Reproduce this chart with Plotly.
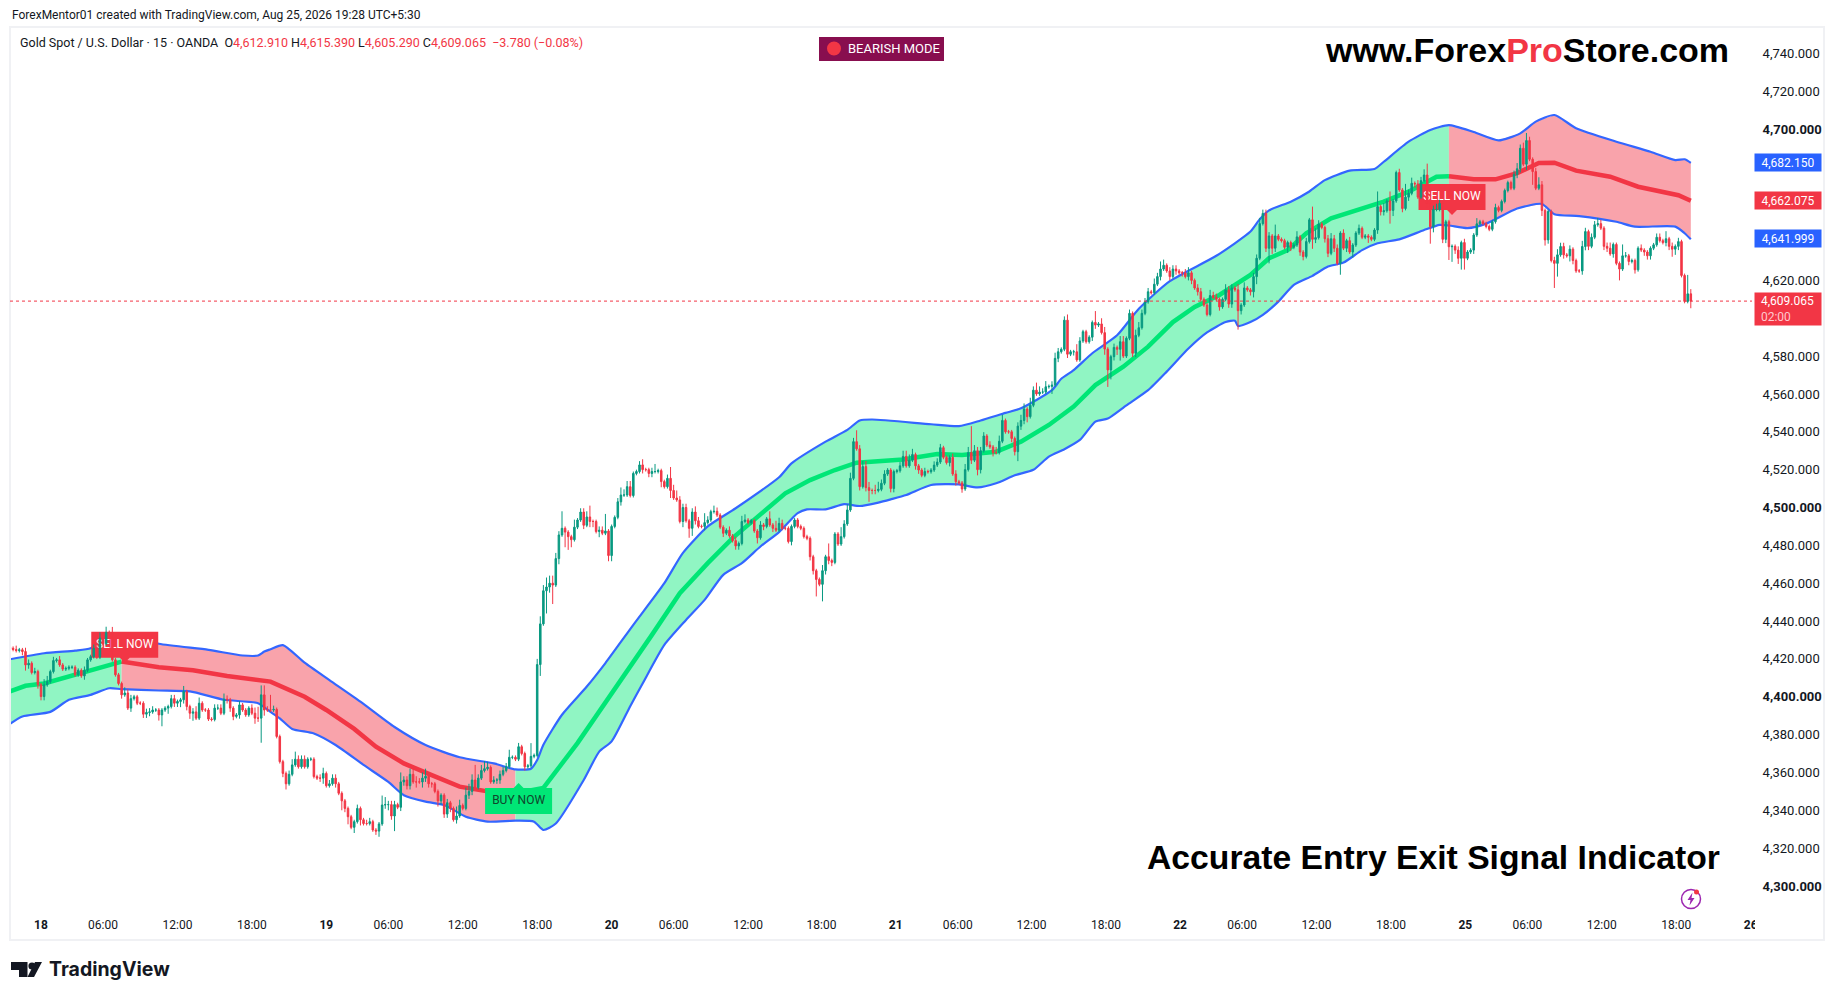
import plotly.graph_objects as go

# 15 minute candles. open = previous close
closes = [
    4425.6, 4425, 4424.4, 4424.8, 4423.9, 4416.8, 4417.7, 4412.8, 4413.3, 4406.3,
    4400.1, 4406.3, 4408, 4413.3, 4419.1, 4419.5, 4416.8, 4414.6, 4415, 4415.6,
    4415.6, 4411.6, 4414, 4411, 4414, 4419.5, 4421.2, 4425.6, 4420.9, 4431,
    4428, 4434, 4433.9, 4419.5, 4411.6, 4407, 4401, 4402, 4394, 4399,
    4400, 4396.6, 4396.6, 4390.8, 4391.7, 4392, 4393, 4393, 4390.4, 4393,
    4394, 4394.8, 4399, 4396.6, 4397.5, 4398.4, 4402.7, 4394.8, 4391.3, 4392,
    4388.7, 4396.6, 4393, 4393, 4388.2, 4388, 4394, 4394, 4391.3, 4398.7,
    4398.4, 4394, 4389.6, 4390.4, 4395.7, 4393, 4390.4, 4394, 4391.3, 4388.7,
    4388.7, 4401, 4393, 4393, 4393, 4393.3, 4379, 4365.7, 4359.5, 4354,
    4359, 4364, 4367, 4363, 4367, 4363, 4367, 4367, 4357.8, 4357,
    4357, 4359.5, 4353, 4354, 4357, 4354, 4349, 4345, 4341, 4336.6,
    4331, 4334, 4341, 4335, 4333, 4333, 4334, 4329.6, 4329, 4332.8,
    4342.8, 4343, 4343, 4337, 4343, 4341.6, 4355, 4356, 4353, 4359,
    4355, 4355, 4355, 4357, 4358, 4354, 4354, 4350, 4345, 4348,
    4338, 4344, 4341, 4335, 4337, 4342.6, 4341, 4348, 4350, 4356,
    4352, 4357, 4361, 4362, 4362.7, 4355, 4356, 4356, 4359, 4361,
    4363, 4368, 4368, 4367, 4373.6, 4370, 4363, 4363.5, 4368.5, 4369,
    4417, 4438.5, 4456, 4458, 4460, 4459, 4473, 4485.5, 4489, 4487,
    4484.6, 4483, 4489.6, 4493.4, 4497.6, 4490.6, 4495, 4492.6, 4492.6, 4487.3,
    4488, 4486.4, 4487.6, 4474.6, 4490, 4494.8, 4503, 4506.6, 4506.6, 4511,
    4506.3, 4518, 4519, 4522.5, 4520, 4520, 4518, 4519, 4519, 4519.5,
    4513.7, 4511, 4515.4, 4509, 4505, 4504, 4492.6, 4500, 4493, 4489,
    4497.6, 4493, 4490, 4490, 4492, 4493.4, 4497.8, 4498, 4496, 4489.6,
    4486.4, 4488, 4485, 4482.5, 4479.7, 4481, 4492.6, 4493.4, 4492, 4493,
    4487.6, 4484, 4490.8, 4490, 4494, 4490.8, 4489, 4488, 4491.6, 4489,
    4489, 4482, 4490, 4493.4, 4490, 4489, 4484.6, 4483.7, 4474, 4466.6,
    4462, 4459.4, 4466.6, 4474, 4472, 4471, 4486, 4480.7, 4484.6, 4491.3,
    4498.7, 4515.4, 4534.8, 4531, 4511, 4521.6, 4510.5, 4509, 4509, 4509,
    4509.6, 4512.8, 4517.7, 4519.8, 4510, 4519, 4519.4, 4522, 4527, 4522,
    4525, 4528, 4522, 4519.8, 4517, 4519, 4518.9, 4519.8, 4522.4, 4524,
    4531.6, 4526.5, 4523.7, 4526.5, 4517.7, 4513.6, 4513, 4509.8, 4520, 4529,
    4525, 4530, 4520, 4530, 4537.8, 4533, 4532, 4529, 4529, 4535,
    4546, 4540, 4540, 4536.5, 4529.5, 4543, 4546, 4552, 4548, 4554,
    4562, 4560, 4561, 4561, 4563.8, 4564, 4564.7, 4578.8, 4582.3, 4583.6,
    4599, 4581, 4582.3, 4582.3, 4578, 4588, 4592.9, 4587.6, 4590, 4597.8,
    4596.4, 4597, 4592.4, 4583.7, 4572.7, 4579.7, 4584.6, 4583.6, 4587.6, 4580,
    4589.4, 4602.6, 4581.5, 4591, 4595, 4602.6, 4608.7, 4614, 4613.5, 4618,
    4622, 4626, 4628, 4625, 4622, 4626, 4625, 4624, 4624, 4622,
    4624, 4620, 4616, 4614, 4610, 4607, 4602, 4612, 4611, 4610,
    4606, 4610, 4615, 4607.5, 4616, 4615, 4604, 4607, 4616, 4615,
    4614, 4622, 4631.7, 4650, 4655.4, 4637, 4643.5, 4637, 4643.5, 4641.7,
    4641, 4637.5, 4640, 4637.5, 4638.7, 4643, 4635, 4632.6, 4640.5, 4652,
    4641.7, 4642.6, 4649.8, 4648, 4642, 4634.3, 4642, 4637, 4629, 4645,
    4637, 4641, 4635, 4638.7, 4645, 4647.5, 4642.8, 4643.5, 4642.8, 4641.7,
    4646.6, 4659, 4656.3, 4656.8, 4662, 4657, 4662, 4677, 4667.8, 4658,
    4664, 4666, 4671.3, 4671, 4664, 4672.7, 4675.7, 4660.7, 4648.4, 4657.5,
    4657.5, 4660.7, 4641.7, 4651, 4637.8, 4638, 4636, 4631.7, 4640, 4631.7,
    4635, 4636, 4644, 4649.9, 4651, 4650, 4648.5, 4647, 4651, 4658.5,
    4657, 4661.7, 4667.5, 4671.7, 4668.7, 4676, 4679, 4689.8, 4681.4, 4693.9,
    4684, 4677.5, 4668.7, 4670.5, 4657, 4641.4, 4656.4, 4630.5, 4629, 4633.5,
    4637.9, 4633.5, 4633, 4636.5, 4630.5, 4625, 4625, 4637.9, 4645.8, 4638,
    4642.8, 4649.4, 4650, 4647.6, 4638, 4637, 4634, 4639, 4629, 4626,
    4633, 4633, 4630, 4630.5, 4625.6, 4637, 4636, 4635, 4633, 4637,
    4638.8, 4642.8, 4641, 4640, 4642, 4638, 4636.5, 4638, 4640.5, 4622.6,
    4608.9, 4612.91, 4609.065,
]
wick_up = [
    2, 1, 2, 1, 1, 2, 2, 1, 2, 1,
    1, 3, 3, 1, 2, 1, 2, 1, 1, 1,
    1, 1, 1, 1, 2, 1, 1, 2, 3, 3,
    2, 3, 1, 3, 1, 1, 1, 3, 2, 2,
    1, 1, 1, 1, 2, 2, 2, 1, 1, 1,
    1, 1, 2, 2, 1, 1, 3, 1, 1, 2,
    3, 3, 1, 1, 1, 1, 2, 2, 2, 3,
    2, 1, 1, 1, 2, 1, 1, 1, 2, 3,
    6, 5, 5, 2, 8, 2, 1, 1, 1, 1,
    2, 3, 4, 2, 2, 2, 1, 1, 1, 1,
    2, 3, 1, 2, 2, 2, 1, 1, 1, 1,
    1, 1, 2, 1, 1, 2, 2, 1, 1, 1,
    5, 4, 2, 2, 2, 1, 5, 2, 2, 3,
    3, 3, 2, 3, 4, 1, 1, 1, 1, 1,
    1, 2, 1, 1, 5, 3, 1, 4, 4, 3,
    8, 2, 3, 4, 3, 1, 2, 1, 2, 2,
    2, 4, 1, 1, 2, 1, 1, 1, 7, 1,
    3, 4, 3, 5, 4, 4, 3, 2, 9, 1,
    1, 1, 4, 1, 2, 2, 3, 6, 1, 1,
    2, 2, 9, 1, 1, 1, 2, 4, 3, 3,
    3, 1, 1, 2, 3, 1, 1, 2, 4, 1,
    1, 1, 2, 6, 3, 4, 2, 2, 2, 1,
    2, 3, 2, 1, 5, 2, 1, 3, 2, 1,
    1, 1, 2, 1, 2, 1, 3, 3, 1, 1,
    1, 1, 2, 1, 1, 4, 1, 4, 3, 2,
    1, 1, 1, 1, 1, 1, 1, 1, 1, 1,
    1, 1, 3, 1, 7, 1, 1, 1, 5, 2,
    3, 3, 2, 6, 2, 3, 3, 3, 1, 3,
    4, 2, 2, 1, 1, 1, 1, 2, 3, 3,
    3, 3, 1, 1, 1, 2, 1, 1, 2, 2,
    2, 1, 1, 1, 2, 2, 1, 1, 3, 3,
    14, 3, 2, 2, 2, 1, 2, 1, 3, 3,
    3, 1, 1, 1, 1, 2, 3, 3, 1, 4,
    2, 4, 3, 2, 3, 1, 2, 3, 2, 1,
    2, 3, 1, 1, 4, 2, 1, 1, 1, 1,
    6, 1, 3, 3, 1, 1, 2, 1, 3, 3,
    1, 2, 1, 3, 3, 2, 2, 2, 1, 3,
    2, 4, 3, 1, 2, 2, 2, 1, 1, 2,
    3, 1, 1, 2, 2, 1, 1, 3, 2, 2,
    1, 1, 3, 2, 2, 1, 3, 1, 3, 1,
    1, 2, 2, 3, 2, 2, 2, 1, 6, 1,
    1, 1, 1, 1, 1, 3, 1, 1, 2, 1,
    7, 5, 2, 1, 1, 2, 3, 2, 2, 1,
    2, 1, 2, 1, 1, 2, 1, 1, 1, 1,
    1, 8, 1, 4, 1, 5, 1, 1, 2, 1,
    7, 2, 3, 1, 2, 2, 3, 6, 2, 2,
    3, 2, 1, 1, 1, 1, 1, 2, 1, 2,
    1, 1, 1, 3, 1, 1, 1, 1, 1, 2,
    1, 1, 1, 1, 1, 2, 3, 2, 3, 4,
    2, 1, 2, 4, 2, 1, 1, 1, 2, 3,
    2, 2, 1, 2, 1, 1, 1, 3, 2, 1,
    2, 2, 3, 2, 1, 2, 3, 1, 1, 1,
    6, 2, 1, 1, 1, 1, 2, 1, 1, 1,
    1, 2, 2, 1, 4, 1, 2, 1, 2, 1,
    1, 10, 2.48,
]
wick_dn = [
    2, 1, 1, 1, 2, 3, 2, 1, 1, 2,
    2, 2, 1, 1, 1, 1, 1, 1, 1, 1,
    1, 1, 1, 1, 2, 1, 1, 1, 1, 1,
    1, 1, 2, 1, 1, 1, 2, 1, 1, 2,
    1, 1, 1, 2, 2, 2, 1, 1, 3, 6,
    1, 3, 1, 2, 2, 3, 2, 2, 3, 4,
    1, 1, 1, 1, 1, 1, 1, 1, 1, 1,
    2, 2, 2, 1, 2, 1, 1, 1, 1, 3,
    2, 13, 3, 1, 1, 1, 1, 1, 2, 3,
    1, 1, 1, 1, 1, 1, 1, 1, 1, 1,
    2, 3, 1, 1, 1, 2, 1, 5, 2, 4,
    1, 3, 1, 3, 1, 1, 1, 1, 2, 3,
    1, 2, 3, 2, 8, 1, 2, 2, 2, 2,
    1, 3, 1, 3, 2, 2, 2, 1, 3, 2,
    2, 2, 2, 1, 2, 1, 1, 1, 2, 2,
    1, 1, 1, 1, 1, 1, 1, 2, 2, 1,
    1, 1, 1, 1, 1, 1, 2, 1, 1, 1,
    1, 6, 1, 12, 3, 10, 1, 3, 1, 8,
    7, 4, 1, 1, 1, 2, 1, 3, 3, 1,
    3, 1, 1, 3, 3, 1, 1, 2, 1, 1,
    1, 1, 1, 1, 2, 1, 2, 2, 1, 1,
    3, 1, 1, 4, 1, 1, 1, 3, 1, 5,
    4, 2, 1, 1, 2, 1, 1, 1, 1, 1,
    2, 1, 1, 1, 2, 2, 1, 1, 1, 1,
    1, 3, 1, 2, 1, 1, 2, 1, 1, 1,
    1, 1, 2, 1, 1, 1, 1, 1, 2, 2,
    9, 1, 9, 2, 2, 2, 1, 1, 1, 1,
    1, 1, 1, 1, 2, 1, 2, 6, 2, 2,
    1, 1, 1, 1, 2, 2, 1, 1, 1, 1,
    1, 1, 2, 2, 1, 1, 1, 1, 1, 1,
    1, 1, 1, 2, 1, 2, 1, 2, 1, 1,
    2, 1, 3, 2, 1, 1, 1, 2, 1, 1,
    1, 1, 1, 2, 2, 5, 2, 2, 3, 1,
    1, 1, 1, 1, 1, 1, 4, 1, 2, 1,
    1, 2, 1, 2, 1, 1, 1, 1, 1, 2,
    2, 1, 1, 3, 9, 5, 2, 3, 6, 1,
    1, 1, 2, 2, 1, 1, 1, 1, 1, 1,
    1, 2, 1, 1, 2, 1, 2, 1, 2, 1,
    2, 2, 1, 2, 1, 1, 1, 1, 1, 1,
    2, 1, 1, 2, 2, 1, 10, 2, 1, 1,
    2, 3, 4, 1, 1, 2, 8, 3, 2, 1,
    1, 1, 3, 2, 1, 1, 2, 2, 1, 1,
    5, 2, 1, 1, 2, 2, 1, 2, 1, 6,
    1, 2, 1, 3, 1, 1, 1, 1, 3, 1,
    1, 2, 2, 2, 1, 7, 3, 1, 1, 2,
    1, 2, 1, 2, 1, 1, 1, 2, 9, 3,
    1, 1, 2, 2, 7, 8, 2, 3, 6, 6,
    1, 1, 2, 1, 1, 1, 1, 1, 1, 1,
    1, 1, 1, 1, 1, 1, 2, 2, 1, 3,
    1, 7, 1, 1, 3, 3, 2, 1, 13, 7,
    1, 2, 1, 3, 2, 1, 1, 2, 2, 2,
    1, 1, 1, 1, 2, 2, 1, 2, 1, 6,
    1, 1, 2, 1, 2, 1, 1, 2, 2, 2,
    1, 1, 1, 1, 2, 2, 4, 3, 2, 1,
    1, 1, 3.775,
]

# envelope lines, (bar, price) read at the bends of each line
upper_bars = [0, 11, 21, 26, 33, 36, 48, 64, 75, 80, 82, 84, 88, 95, 103, 113, 124, 134, 145, 156, 163,
              168, 170, 172, 178, 186, 192, 201, 211, 217, 225, 234, 248, 252, 263, 270, 274, 278, 297, 306, 313, 321,
              326, 336, 339, 343, 349, 357, 364, 374, 389, 400, 403, 406, 413, 419, 424, 432, 440, 443, 451,
              458, 464, 472, 480, 487, 492, 498, 505, 518, 529, 537, 540, 542]
upper_vals = [4419.8, 4423, 4424.4, 4425.6, 4433, 4433, 4428, 4424.8, 4421.8, 4421.8, 4423.9, 4425.1, 4427.3, 4418, 4408.8, 4397.4, 4384, 4374.5, 4368, 4364.8, 4361.6,
              4362, 4366.6, 4374.6, 4390.5, 4405.4, 4417.8, 4438, 4460, 4476, 4490, 4499.6, 4516, 4523.3, 4534.8, 4541, 4546, 4546.5, 4544, 4543, 4546, 4550,
              4552.4, 4562, 4568, 4572.6, 4581.5, 4591, 4605, 4619.6, 4633, 4645.8, 4652.3, 4657, 4661.6, 4667, 4673, 4678, 4678.9, 4682.7, 4693.3,
              4699.5, 4702, 4698.4, 4694, 4697.7, 4703.9, 4707.4, 4700.4, 4693.3, 4688, 4683.6, 4684, 4682.15]
mid_bars = [0, 5, 11, 21, 30, 36, 48, 59, 70, 84, 95, 102, 111, 118, 127, 136, 145, 154, 163,
            172, 183, 192, 200, 207, 216, 225, 233, 245, 250, 258, 266, 273, 288, 299, 307, 318,
            326, 335, 343, 350, 359, 367, 375, 382, 390, 400, 406, 412, 418, 426, 434, 443, 451, 460, 464,
            472, 479, 486, 493, 498, 505, 516, 525, 538, 542]
mid_vals = [4402.8, 4405.8, 4407, 4411.6, 4416, 4418.6, 4415.6, 4414, 4411, 4408, 4400, 4393, 4383, 4373.6, 4364.8, 4358.6, 4352.5, 4350, 4349,
            4351.8, 4375.5, 4396.6, 4416, 4432.7, 4454.7, 4470.6, 4483.8, 4500.4, 4507.5, 4514.5, 4519.8, 4523.7, 4525.4, 4528.2, 4527.7, 4529.5,
            4534.8, 4543.6, 4553.3, 4564.7, 4574.4, 4585, 4598, 4606, 4612.3, 4622.9, 4631.7, 4636, 4644.9, 4652.8, 4657, 4661.6, 4666.9, 4674.8, 4675,
            4673.5, 4673.4, 4676.7, 4682, 4682.2, 4678, 4674.8, 4669.5, 4665, 4662.075]
lower_bars = [0, 4, 13, 19, 26, 32, 36, 48, 58, 69, 80, 84, 87, 91, 98, 105, 114, 122, 127, 134, 140, 147, 154, 163,
              169, 172, 176, 185, 190, 194, 200, 204, 211, 218, 224, 230, 236, 242, 248, 254, 257, 263, 269, 274, 280, 284, 289, 297, 306, 312, 318, 324,
              330, 335, 340, 345, 350, 354, 360, 367, 373, 380, 386, 392, 395, 396, 400, 404, 409, 414, 420, 425, 430, 436, 441, 448, 456, 461, 464,
              470, 476, 486, 494, 498, 506, 518, 524, 537, 540, 542]
lower_vals = [4385.7, 4389.6, 4392, 4398.4, 4401, 4404.5, 4404, 4403.3, 4402.8, 4398.4, 4396.6, 4392, 4388.6, 4383, 4380.6, 4374.5, 4364, 4355, 4348, 4344.6, 4342.8, 4336.6, 4334, 4334.5,
              4334, 4329.6, 4333, 4356, 4371, 4376.4, 4395, 4407, 4427.4, 4440.6, 4451.2, 4464.4, 4470.6, 4479.4, 4487, 4497, 4499, 4499, 4501.8, 4500.8, 4502.6, 4504.3, 4506.6, 4511.9, 4512.2, 4510.6, 4512.8, 4517,
              4519.9, 4526.9, 4530.8, 4535.7, 4545.4, 4547, 4554, 4562, 4571.8, 4584, 4592.5, 4598, 4598.7, 4595.9, 4598, 4601.8, 4608.8, 4617.6, 4622.4, 4627.3, 4629.4, 4636, 4639.6, 4641.7, 4646.6, 4649.3, 4649,
              4647.6, 4650, 4658, 4660.4, 4655, 4654, 4651, 4648.4, 4648.4, 4644.9, 4641.7]

# bars where the trend flips, first stretch is bullish
flip_bars = [0, 36, 163, 464, 542]
flip_bull = [True, False, True, False]

signal_bars = [37, 164, 465]
signal_tips = [4418, 4354.4, 4654.6]
signal_text = ["SELL NOW", "BUY NOW", "SELL NOW"]

price_ticks = [4300, 4320, 4340, 4360, 4380, 4400, 4420, 4440, 4460, 4480, 4500, 4520, 4540, 4560, 4580,
               4620, 4700, 4720, 4740]
bold_prices = [4300, 4400, 4500, 4700]
time_ticks = [10, 30, 54, 78, 102, 122, 146, 170, 194, 214, 238, 261.7, 285.6, 305.6, 329.4, 353.4,
              377.3, 397.3, 421.3, 445.3, 469.3, 489.3, 513.3, 537.3, 561.3]
time_labels = ["<b>18</b>", "06:00", "12:00", "18:00", "<b>19</b>", "06:00", "12:00", "18:00",
               "<b>20</b>", "06:00", "12:00", "18:00", "<b>21</b>", "06:00", "12:00", "18:00",
               "<b>22</b>", "06:00", "12:00", "18:00", "<b>25</b>", "06:00", "12:00", "18:00", "<b>26</b>"]

UP = "#089981"
DOWN = "#F23645"
BLUE = "#2962FF"
FONT = "Roboto"

# pane in screen pixels, the page adds a body margin of 8px that the figure has to leave room for
BODY = 8
PANE_L, PANE_R, PANE_T, PANE_B = 10, 1755, 27, 905
XRANGE = [0, 562.7]
YRANGE = [4289.96, 4753.9]


def px(x):
    return (x - PANE_L) / (PANE_R - PANE_L)


def py(y):
    return (PANE_B - y) / (PANE_B - PANE_T)


def stretch(bars, vals, start, end):
    pts = [(b, v) for b, v in zip(bars, vals) if start <= b <= end]
    return [p[0] for p in pts], [p[1] for p in pts]


def note(x, y, text, size=12, color="#131722", family=FONT, anchor="left"):
    return dict(xref="paper", yref="paper", x=px(x), y=py(y), text=text, showarrow=False,
                xanchor=anchor, yanchor="middle", font=dict(size=size, color=color, family=family))


def tag(price, text, color, height=17, align="center"):
    return dict(xref="paper", yref="y", x=px(1754), y=price, text=text, showarrow=False, xanchor="left",
                yanchor="middle", width=66, height=height, bgcolor=color, borderpad=0, align=align,
                font=dict(size=12, color="white", family=FONT))


fig = go.Figure()

# bands sit on the main axes, candles on an overlay so they draw on top
for i, bull in enumerate(flip_bull):
    start, end = flip_bars[i], flip_bars[i + 1]
    lx, ly = stretch(lower_bars, lower_vals, start, end)
    ux, uy = stretch(upper_bars, upper_vals, start, end)
    fig.add_trace(go.Scatter(x=lx, y=ly, mode="lines", line=dict(width=0), hoverinfo="skip"))
    fig.add_trace(go.Scatter(x=ux, y=uy, mode="lines", line=dict(width=0), fill="tonexty", hoverinfo="skip",
                             fillcolor="#90F5C3" if bull else "#F9A3AB"))

fig.add_trace(go.Scatter(x=upper_bars, y=upper_vals, mode="lines", hoverinfo="skip",
                         line=dict(color="#3366FF", width=2.2, shape="spline", smoothing=0.6)))
fig.add_trace(go.Scatter(x=lower_bars, y=lower_vals, mode="lines", hoverinfo="skip",
                         line=dict(color="#3366FF", width=2.2, shape="spline", smoothing=0.6)))
for i, bull in enumerate(flip_bull):
    mx, my = stretch(mid_bars, mid_vals, flip_bars[i], flip_bars[i + 1])
    fig.add_trace(go.Scatter(x=mx, y=my, mode="lines", hoverinfo="skip",
                             line=dict(color="#00E676" if bull else DOWN, width=4.5)))

# signal labels, candles run over them in the original
for bar, tip, text in zip(signal_bars, signal_tips, signal_text):
    buy = text.startswith("BUY")
    d = 1 if buy else -1
    near, far = tip - d * 2.6, tip - d * 16.4
    xs = [bar - 10.8, bar - 1.6, bar, bar + 1.6, bar + 10.8, bar + 10.8, bar - 10.8, bar - 10.8]
    ys = [near, near, tip, near, near, far, far, near]
    fig.add_trace(go.Scatter(x=xs, y=ys, mode="lines", fill="toself", hoverinfo="skip",
                             line=dict(width=0), fillcolor="#00E676" if buy else DOWN))
    fig.add_trace(go.Scatter(x=[bar], y=[(near + far) / 2], mode="text", text=[text], hoverinfo="skip",
                             textfont=dict(size=12, family=FONT, color="#10452C" if buy else "white")))

opens = [closes[0] + 0.4] + closes[:-1]
highs = [max(o, c) + w for o, c, w in zip(opens, closes, wick_up)]
lows = [min(o, c) - w for o, c, w in zip(opens, closes, wick_dn)]
fig.add_trace(go.Candlestick(
    x=list(range(len(closes))), open=opens, high=highs, low=lows, close=closes,
    xaxis="x2", yaxis="y2", whiskerwidth=0, hoverinfo="skip",
    increasing=dict(line=dict(color=UP, width=1), fillcolor=UP),
    decreasing=dict(line=dict(color=DOWN, width=1), fillcolor=DOWN),
))

price_text = [f"<b>{p:,}.000</b>" if p in bold_prices else f"{p:,}.000" for p in price_ticks]

logo_x = [11, 27.5, 27.5, 19, 19, 11]
logo_y = [962, 962, 977, 977, 970, 970]
logo_path = "M " + " L ".join(f"{px(x)} {py(y)}" for x, y in zip(logo_x, logo_y)) + " Z"
slant_x = [35, 42, 34, 27.5]
slant_y = [962, 962, 977, 977]
slant_path = "M " + " L ".join(f"{px(x)} {py(y)}" for x, y in zip(slant_x, slant_y)) + " Z"
bolt_x = [1692.5, 1687.5, 1690.5, 1689.5, 1694.5, 1691.5]
bolt_y = [892.5, 900, 900, 905.5, 898, 898]
bolt_path = "M " + " L ".join(f"{px(x)} {py(y)}" for x, y in zip(bolt_x, bolt_y)) + " Z"


def paper_rect(x0, y0, x1, y1, **kw):
    return dict(type="rect", xref="paper", yref="paper", x0=px(x0), y0=py(y0), x1=px(x1), y1=py(y1), **kw)


def paper_circle(cx, cy, r, **kw):
    return dict(type="circle", xref="paper", yref="paper", x0=px(cx - r), y0=py(cy - r), x1=px(cx + r), y1=py(cy + r), **kw)


shapes = [
    paper_rect(10, 27, 1824, 940, line=dict(color="#F0F1F4", width=2)),
    # the last time label is cut by the price scale
    paper_rect(1755, 908, 1764, 938, fillcolor="white", line=dict(width=0), layer="above"),
    dict(type="line", xref="paper", yref="y", x0=0, x1=px(1752), y0=closes[-1], y1=closes[-1],
         line=dict(color=DOWN, width=1, dash="dot")),
    paper_rect(819, 37, 944, 61, fillcolor="#880E4F", line=dict(width=0)),
    paper_circle(834, 48.5, 7, fillcolor="#F23645", line=dict(width=0)),
    paper_circle(1691, 899, 9.5, line=dict(color="#9C27B0", width=1.5)),
    paper_circle(1696.5, 892, 2.5, fillcolor="#F23645", line=dict(width=0)),
    dict(type="path", xref="paper", yref="paper", path=bolt_path, fillcolor="#9C27B0", line=dict(width=0)),
    dict(type="path", xref="paper", yref="paper", path=logo_path, fillcolor="#131722", line=dict(width=0)),
    dict(type="path", xref="paper", yref="paper", path=slant_path, fillcolor="#131722", line=dict(width=0)),
    paper_circle(32, 966, 3.6, fillcolor="#131722", line=dict(width=0)),
]

legend_text = ("Gold Spot / U.S. Dollar · 15 · OANDA\u00a0\u00a0"
               f"O<span style='color:{DOWN}'>4,612.910</span> H<span style='color:{DOWN}'>4,615.390</span> "
               f"L<span style='color:{DOWN}'>4,605.290</span> C<span style='color:{DOWN}'>4,609.065</span> "
               f"<span style='color:{DOWN}'>\u00a0−3.780 (−0.08%)</span>")

annotations = [
    note(10, 15, "ForexMentor01 created with TradingView.com, Aug 25, 2026 19:28 UTC+5:30"),
    note(18, 42, legend_text, size=12.5),
    note(846, 48.5, "BEARISH MODE", size=13, color="white"),
    note(1322.5, 50, f"<b>www.Forex<span style='color:{DOWN}'>Pro</span>Store.com</b>", size=34,
         color="black", family="Liberation Sans"),
    note(1145, 857, "<b>Accurate Entry Exit Signal Indicator</b>", size=33.7, color="black", family="Liberation Sans"),
    note(47, 969, "<b>TradingView</b>", size=19.5, family="Inter"),
    tag(4682.15, "4,682.150", BLUE),
    tag(4662.075, "4,662.075", DOWN),
    tag(4641.999, "4,641.999", BLUE),
    tag(4605, "\u00a0\u00a04,609.065<br>\u00a0\u00a0<span style='color:#FFC9CE'>02:00</span>", DOWN, height=32, align="left"),
]

fig.update_layout(
    width=1835 - BODY,
    height=1000 - BODY,
    showlegend=False,
    hovermode=False,
    plot_bgcolor="white",
    paper_bgcolor="white",
    margin=dict(l=PANE_L - BODY, r=1835 - PANE_R, t=PANE_T - BODY, b=1000 - PANE_B),
    font=dict(family=FONT, size=12, color="#131722"),
    xaxis=dict(range=XRANGE, tickmode="array", tickvals=time_ticks, ticktext=time_labels, showgrid=False,
               zeroline=False, showline=False, ticks="outside", ticklen=9, tickcolor="white",
               tickfont=dict(size=12, family=FONT, color="#131722")),
    yaxis=dict(range=YRANGE, side="right", tickmode="array", tickvals=price_ticks, ticktext=price_text,
               showgrid=False, zeroline=False, showline=False, ticks="outside", ticklen=4, tickcolor="white",
               tickfont=dict(size=13, family=FONT, color="#131722")),
    xaxis2=dict(range=XRANGE, overlaying="x", visible=False, rangeslider=dict(visible=False)),
    yaxis2=dict(range=YRANGE, overlaying="y", visible=False, side="right"),
    shapes=shapes,
    annotations=annotations,
)

fig.write_html("out.html")
